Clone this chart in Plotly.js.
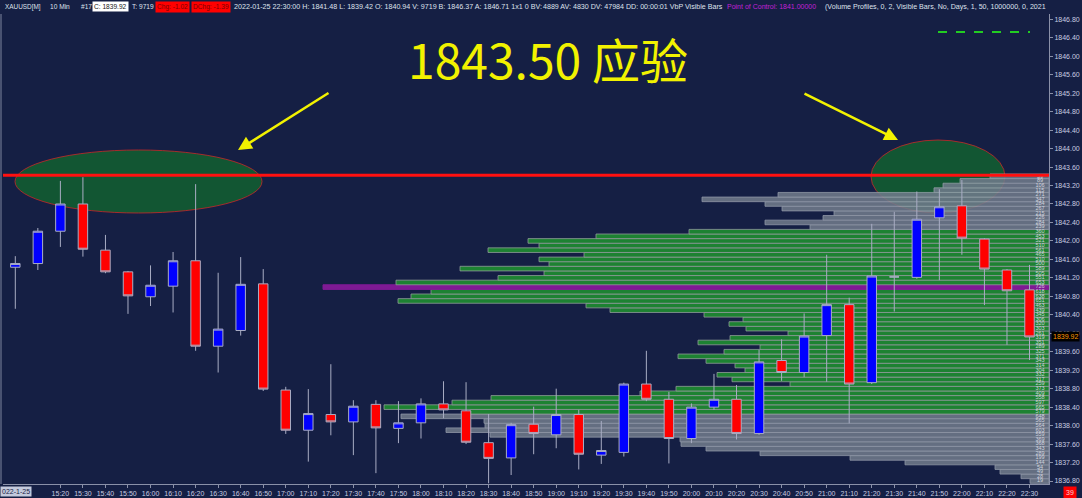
<!DOCTYPE html>
<html><head><meta charset="utf-8">
<script src="https://cdn.plot.ly/plotly-3.0.1.min.js"></script>
<style>html,body{margin:0;padding:0;background:#151f44;overflow:hidden}#chart{width:1082px;height:498px}</style>
</head><body><div id="chart"></div>
<script>
// ---------- data ----------
const times = ['15:00','15:10','15:20','15:30','15:40','15:50','16:00','16:10','16:20','16:30','16:40','16:50',
  '17:00','17:10','17:20','17:30','17:40','17:50','18:00','18:10','18:20','18:30','18:40','18:50',
  '19:00','19:10','19:20','19:30','19:40','19:50','20:00','20:10','20:20','20:30','20:40','20:50',
  '21:00','21:10','21:20','21:30','21:40','21:50','22:00','22:10','22:20','22:30'];
const openP  = [1841.43,1841.51,1842.21,1842.80,1841.80,1841.33,1840.79,1841.02,1841.57,1839.72,1840.06,1841.07,
  1838.77,1837.90,1838.24,1838.08,1838.46,1837.94,1838.06,1838.47,1838.32,1837.63,1837.30,1838.03,
  1837.80,1838.24,1837.36,1837.42,1838.90,1838.57,1837.72,1838.40,1838.57,1837.83,1839.41,1839.15,
  1839.95,1840.62,1838.93,1841.22,1841.21,1842.50,1842.76,1842.04,1841.37,1840.94];
const highP  = [1841.67,1842.28,1843.30,1843.38,1842.13,1841.35,1841.47,1841.76,1843.23,1841.31,1841.65,1841.39,
  1838.84,1838.79,1839.33,1838.55,1838.55,1838.53,1838.59,1838.96,1838.94,1838.25,1838.06,1838.41,
  1838.80,1838.34,1838.10,1838.93,1839.62,1838.73,1838.48,1839.12,1838.88,1839.64,1839.87,1840.43,
  1841.70,1840.77,1842.37,1842.63,1843.07,1843.12,1843.32,1842.06,1841.39,1841.48];
const lowP   = [1840.53,1841.37,1841.87,1841.66,1841.30,1840.42,1840.59,1840.45,1839.62,1839.15,1839.95,1838.75,
  1837.82,1837.22,1837.79,1837.36,1836.97,1837.62,1837.72,1838.16,1837.60,1836.75,1836.93,1837.38,
  1837.51,1837.05,1837.17,1837.33,1838.53,1837.18,1837.62,1838.34,1837.70,1837.80,1838.97,1839.05,
  1838.95,1838.05,1838.90,1840.47,1841.18,1841.15,1841.70,1840.61,1839.75,1839.42];
const closeP = [1841.51,1842.21,1842.80,1841.82,1841.33,1840.81,1841.04,1841.57,1839.72,1840.09,1841.06,1838.79,
  1837.90,1838.26,1838.08,1838.42,1837.95,1838.06,1838.47,1838.34,1837.64,1837.29,1838.02,1837.83,
  1838.24,1837.38,1837.46,1838.90,1838.57,1837.72,1838.40,1838.57,1837.83,1839.38,1839.15,1839.94,
  1840.62,1838.90,1841.24,1841.22,1842.47,1842.74,1842.06,1841.39,1840.92,1839.92];

const profilePrice = [1836.8,1836.9,1837.0,1837.1,1837.2,1837.3,1837.4,1837.5,1837.6,1837.7,1837.8,1837.9,
  1838.0,1838.1,1838.2,1838.3,1838.4,1838.5,1838.6,1838.7,1838.8,1838.9,1839.0,1839.1,1839.2,1839.3,
  1839.4,1839.5,1839.6,1839.7,1839.8,1839.9,1840.0,1840.1,1840.2,1840.3,1840.4,1840.5,1840.6,1840.7,
  1840.8,1840.9,1841.0,1841.1,1841.2,1841.3,1841.4,1841.5,1841.6,1841.7,1841.8,1841.9,1842.0,1842.1,
  1842.2,1842.3,1842.4,1842.5,1842.6,1842.7,1842.8,1842.9,1843.0,1843.1,1843.2,1843.3,1843.4];
const profileVolume = [19,28,49,54,144,199,289,343,368,369,559,603,
  564,565,648,579,665,597,558,409,373,259,317,332,304,314,
  343,371,325,289,351,319,261,303,320,306,345,439,463,651,
  638,618,726,653,551,505,589,500,510,465,561,510,521,453,
  360,239,284,226,215,267,284,347,271,115,106,89,59];
const valueAreaLow = 1838.3, valueAreaHigh = 1842.2, pointOfControl = 1841.0;
const markedLevel = 1843.42;
const lastPrice = 1839.92;
const yTicks = [1836.8,1837.2,1837.6,1838.0,1838.4,1838.8,1839.2,1839.6,1840.0,1840.4,1840.8,1841.2,1841.6,
  1842.0,1842.4,1842.8,1843.2,1843.6,1844.0,1844.4,1844.8,1845.2,1845.6,1846.0,1846.4,1846.8];

// ---------- geometry helpers ----------
const W=1082,H=498,ML=3,MR=33,MT=14,MB=14;
const PW=W-ML-MR, PH=H-MT-MB;
const px = x => (x-ML)/PW;
const py = y => (H-MB-y)/PH;
const FONT = 'Liberation Sans, Arial, sans-serif';
const NAVY = '#151f44';

const isPOC = p => Math.abs(p-pointOfControl) < 1e-6;
const inVA = p => p >= valueAreaLow-1e-6 && p <= valueAreaHigh+1e-6;
const barColors = profilePrice.map(p => isPOC(p) ? '#8e1aa0' : (inVA(p) ? '#1f9030' : '#6f7a8a'));
const barLines = profilePrice.map(p => isPOC(p) ? '#8e1aa0' : (inVA(p) ? 'rgba(160,172,165,0.8)' : 'rgba(160,168,180,0.8)'));

const profile = {
  type:'bar', orientation:'h', x:profileVolume, y:profilePrice, width:0.1,
  xaxis:'x', yaxis:'y', hoverinfo:'skip', opacity:0.88,
  marker:{color:barColors, line:{color:barLines, width:1}}
};
const profileText = {
  type:'scatter', mode:'text', x:profilePrice.map(()=>9), y:profilePrice,
  text:profileVolume.map(String), xaxis:'x', yaxis:'y', hoverinfo:'skip',
  textfont:{family:FONT, size:5.5, color:'rgba(225,228,238,0.85)'}, textposition:'middle center'
};
const candles = {
  type:'candlestick', x:times, open:openP, high:highP, low:lowP, close:closeP,
  xaxis:'x2', yaxis:'y', whiskerwidth:0, hoverinfo:'skip',
  increasing:{fillcolor:'#0000ff', line:{color:'#a9adc4', width:1}},
  decreasing:{fillcolor:'#ff0000', line:{color:'#a9adc4', width:1}}
};

const header = [
  {t:'XAUUSD[M]', x:3, s:6.4},
  {t:'10 Min', x:48, s:6.6},
  {t:'#17', x:79, s:6.6},
  {t:'C: 1839.92', x:92, bg:'#ffffff', c:'#151515', s:6.6},
  {t:'T: 9719', x:130, s:6.6},
  {t:'Chg: -1.02', x:155, bg:'#ff0000', c:'#7a0000', s:6.6},
  {t:'DChg: -1.39', x:191, bg:'#ff0000', c:'#7a0000', s:6.6},
  {t:'2022-01-25 22:30:00 H: 1841.48 L: 1839.42 O: 1840.94 V: 9719 B: 1846.37 A: 1846.71 1x1 0 BV:', x:232, s:7.15},
  {t:'4889 AV: 4830 DV: 47984 DD: 00:00:01 VbP Visible Bars', x:541, s:7.1},
  {t:'Point of Control: 1841.00000', x:725, c:'#c21fd4', s:7.0},
  {t:'(Volume Profiles, 0, 2, Visible Bars, No, Days, 1, 50, 1000000, 0, 2021', x:823, s:7.1}
];
const annotations = header.map(h => ({
  xref:'paper', yref:'paper', x:px(h.x), y:py(6.5), xanchor:'left', yanchor:'middle',
  text:h.t, showarrow:false, bgcolor:h.bg||'rgba(0,0,0,0)', borderpad:1,
  font:{family:FONT, size:h.s, color:h.c||'#dfe2ec'}
}));
annotations.push(
  {xref:'paper', yref:'paper', x:px(548), y:py(58), xanchor:'center', yanchor:'middle', showarrow:false,
   text:'1843.50 应验', font:{family:'Noto Sans CJK SC, Noto Sans, sans-serif', size:48, color:'#f2f200'}},
  {xref:'paper', yref:'paper', x:px(238), y:py(150), ax:92, ay:-58, axref:'pixel', ayref:'pixel', text:'',
   showarrow:true, arrowhead:2, arrowsize:1.1, arrowwidth:2.5, arrowcolor:'#f2f200'},
  {xref:'paper', yref:'paper', x:px(898), y:py(140), ax:-95, ay:-47, axref:'pixel', ayref:'pixel', text:'',
   showarrow:true, arrowhead:2, arrowsize:1.1, arrowwidth:2.5, arrowcolor:'#f2f200'},
  {xref:'paper', yref:'y', x:px(1051), y:lastPrice, xanchor:'left', yanchor:'middle', showarrow:false,
   text:lastPrice.toFixed(2), bgcolor:'#000000', borderpad:1, font:{family:FONT, size:7, color:'#ff9a00'}},
  {xref:'paper', yref:'paper', x:px(1063), y:py(492), xanchor:'left', yanchor:'middle', showarrow:false,
   text:'39', bgcolor:'#ff0000', borderpad:2, font:{family:FONT, size:7, color:'#ffd0d0'}},
  {xref:'paper', yref:'paper', x:px(0), y:py(491), xanchor:'left', yanchor:'middle', showarrow:false,
   text:'022-1-25', bgcolor:'#c3c9dc', borderpad:1, font:{family:FONT, size:7, color:'#1a2245'}}
);

const shapes = [
  {type:'circle', xref:'paper', yref:'paper', x0:px(15), x1:px(262), y0:py(213), y1:py(150),
   fillcolor:'rgba(18,96,48,0.85)', line:{color:'rgba(200,40,40,0.8)', width:1}, layer:'below'},
  {type:'circle', xref:'paper', yref:'paper', x0:px(871), x1:px(1005), y0:py(213), y1:py(140),
   fillcolor:'rgba(18,96,48,0.85)', line:{color:'rgba(200,40,40,0.8)', width:1}, layer:'below'},
  {type:'line', xref:'paper', yref:'y', x0:0, x1:1, y0:markedLevel, y1:markedLevel,
   line:{color:'#ff1010', width:3}, layer:'above'},
  {type:'line', xref:'paper', yref:'paper', x0:px(938), x1:px(1030), y0:py(32), y1:py(32),
   line:{color:'#22cc22', width:2, dash:'dash'}},
  {type:'line', xref:'paper', yref:'paper', x0:px(1), x1:px(1), y0:0, y1:1,
   line:{color:'#7f869e', width:1}}
];

const layout = {
  width:W, height:H, margin:{l:ML, r:MR, t:MT, b:MB, pad:0},
  paper_bgcolor:NAVY, plot_bgcolor:NAVY, showlegend:false, boxgap:0.4,
  xaxis:{domain:[0,1], range:[PW,0], visible:false, fixedrange:true},
  xaxis2:{overlaying:'x', anchor:'y', type:'category', categoryarray:times, range:[-0.546,45.865],
    rangeslider:{visible:false}, tickmode:'array', tickvals:times.slice(2), ticktext:times.slice(2),
    ticks:'outside', ticklen:3, tickcolor:'#8a90a8', showline:true, linecolor:'#8a90a8', linewidth:1,
    showgrid:false, zeroline:false, fixedrange:true,
    tickfont:{family:FONT, size:7, color:'#c8cce0'}},
  yaxis:{range:[1836.735,1846.915], side:'right', anchor:'x', tickmode:'array', tickvals:yTicks,
    ticktext:yTicks.map(v=>v.toFixed(2)), ticks:'outside', ticklen:3, tickcolor:'#8a90a8',
    showline:true, linecolor:'#8a90a8', linewidth:1, showgrid:false, zeroline:false, fixedrange:true,
    tickfont:{family:FONT, size:7, color:'#c8cce0'}},
  annotations:annotations, shapes:shapes
};

Plotly.newPlot('chart', [profile, profileText, candles], layout, {displayModeBar:false, staticPlot:true});
</script>
</body></html>
